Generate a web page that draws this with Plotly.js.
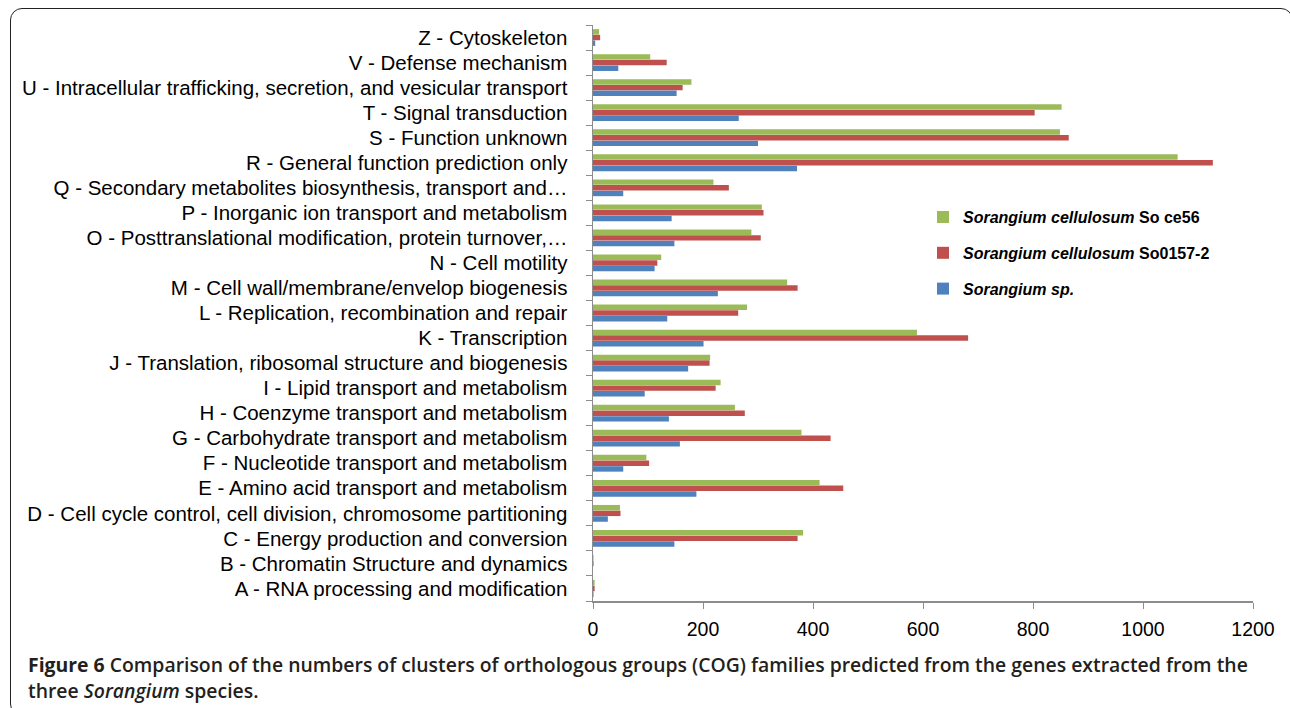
<!DOCTYPE html>
<html>
<head>
<meta charset="utf-8">
<script src="https://cdn.plot.ly/plotly-3.0.1.min.js"></script>
<style>
  html, body { margin: 0; padding: 0; background: #fff; overflow: hidden; }
  #frame { position: absolute; left: 10px; top: 8px; width: 1283px; height: 708px;
           border: 1.5px solid #222; border-radius: 12px; box-sizing: border-box; }
  #chart { position: absolute; left: 0; top: 0; width: 1290px; height: 708px; }
</style>
</head>
<body>
<div id="frame"></div>
<div id="chart"></div>
<script>
const categories = [
  "A - RNA processing and modification",
  "B - Chromatin Structure and dynamics",
  "C - Energy production and conversion",
  "D - Cell cycle control, cell division, chromosome partitioning",
  "E - Amino acid transport and metabolism",
  "F - Nucleotide transport and metabolism",
  "G - Carbohydrate transport and metabolism",
  "H - Coenzyme transport and metabolism",
  "I - Lipid transport and metabolism",
  "J - Translation, ribosomal structure and biogenesis",
  "K - Transcription",
  "L - Replication, recombination and repair",
  "M - Cell wall/membrane/envelop biogenesis",
  "N - Cell motility",
  "O - Posttranslational modification, protein turnover,\u2026",
  "P - Inorganic ion transport and metabolism",
  "Q - Secondary metabolites biosynthesis, transport and\u2026",
  "R - General function prediction only",
  "S - Function unknown",
  "T - Signal transduction",
  "U - Intracellular trafficking, secretion, and vesicular transport",
  "V - Defense mechanism",
  "Z - Cytoskeleton"
];
//                     A  B   C   D   E   F   G   H   I   J   K   L   M   N   O   P   Q    R    S    T   U   V   Z
const soCe56      = [  3, 1, 382, 49, 412, 97, 379, 258, 232, 213, 589, 280, 353, 124, 288, 307, 219, 1063, 849, 852, 179, 104, 11];
const so0157      = [  3, 1, 372, 50, 455, 102, 432, 276, 223, 212, 682, 264, 372, 117, 305, 310, 247, 1127, 865, 803, 163, 134, 13];
const sorangiumSp = [  1, 0, 148, 27, 188, 55, 158, 138, 94, 173, 201, 135, 227, 112, 148, 143, 55, 371, 300, 265, 152, 46, 4];
const seriesNames = [
  "<b><i>Sorangium sp.</i></b>",
  "<b><i>Sorangium cellulosum</i> So0157-2</b>",
  "<b><i>Sorangium cellulosum</i> So ce56</b>"
];
const xTicks = [0, 200, 400, 600, 800, 1000, 1200];

const colors = ["#4F81BD", "#C0504D", "#9BBB59"];
const vals = [sorangiumSp, so0157, soCe56];
const ranks = [3, 2, 1];

const traces = vals.map((v, i) => ({
  type: "bar",
  orientation: "h",
  y: categories,
  x: v,
  name: seriesNames[i],
  legendgroup: "g" + i,
  legendrank: ranks[i],
  marker: { color: colors[i] },
  hoverinfo: "x+name"
}));

const FONT = "'Liberation Sans', Arial, Helvetica, sans-serif";
const CAP = "'Open Sans', 'Noto Sans', sans-serif";

const layout = {
  width: 1290, height: 708,
  margin: { l: 593, r: 37, t: 25, b: 107 },
  paper_bgcolor: "rgba(0,0,0,0)",
  plot_bgcolor: "rgba(0,0,0,0)",
  barmode: "group",
  bargap: 0.32,
  bargroupgap: 0.04,
  font: { family: FONT, color: "#000" },
  xaxis: {
    range: [0, 1200],
    tickvals: xTicks,
    ticktext: xTicks.map(String),
    showgrid: false,
    zeroline: false,
    showline: true,
    linecolor: "#8c8c8c",
    linewidth: 1.5,
    ticks: "outside",
    ticklen: 6,
    tickcolor: "#8c8c8c",
    ticklabelstandoff: 4,
    tickfont: { size: 19.5, family: FONT },
    fixedrange: true
  },
  yaxis: {
    type: "category",
    categoryorder: "array",
    categoryarray: categories,
    showgrid: false,
    zeroline: false,
    showline: true,
    linecolor: "#8c8c8c",
    linewidth: 1.5,
    ticks: "outside",
    tickson: "boundaries",
    ticklen: 6,
    tickcolor: "#8c8c8c",
    ticklabelstandoff: 20,
    tickfont: { size: 20.5, family: FONT },
    fixedrange: true
  },
  showlegend: true,
  legend: {
    x: 0.5, y: 0.696, xanchor: "left", yanchor: "top",
    traceorder: "grouped",
    tracegroupgap: 12,
    font: { size: 16, family: FONT },
    bgcolor: "rgba(0,0,0,0)",
    itemwidth: 30
  },
  annotations: [
    {
      xref: "paper", yref: "paper",
      x: (26 - 593) / 660, y: (601 - 664) / 576,
      xanchor: "left", yanchor: "middle",
      showarrow: false, align: "left",
      text: "<b>Figure 6</b> Comparison of the numbers of clusters of orthologous groups (COG) families predicted from the genes extracted from the",
      font: { size: 19.4, weight: 600, family: CAP, color: "#231f20" }
    },
    {
      xref: "paper", yref: "paper",
      x: (26 - 593) / 660, y: (601 - 690) / 576,
      xanchor: "left", yanchor: "middle",
      showarrow: false, align: "left",
      text: "three <i>Sorangium</i> species.",
      font: { size: 19.4, weight: 600, family: CAP, color: "#231f20" }
    }
  ]
};

Plotly.newPlot("chart", traces, layout, { displayModeBar: false, staticPlot: true });
</script>
</body>
</html>
